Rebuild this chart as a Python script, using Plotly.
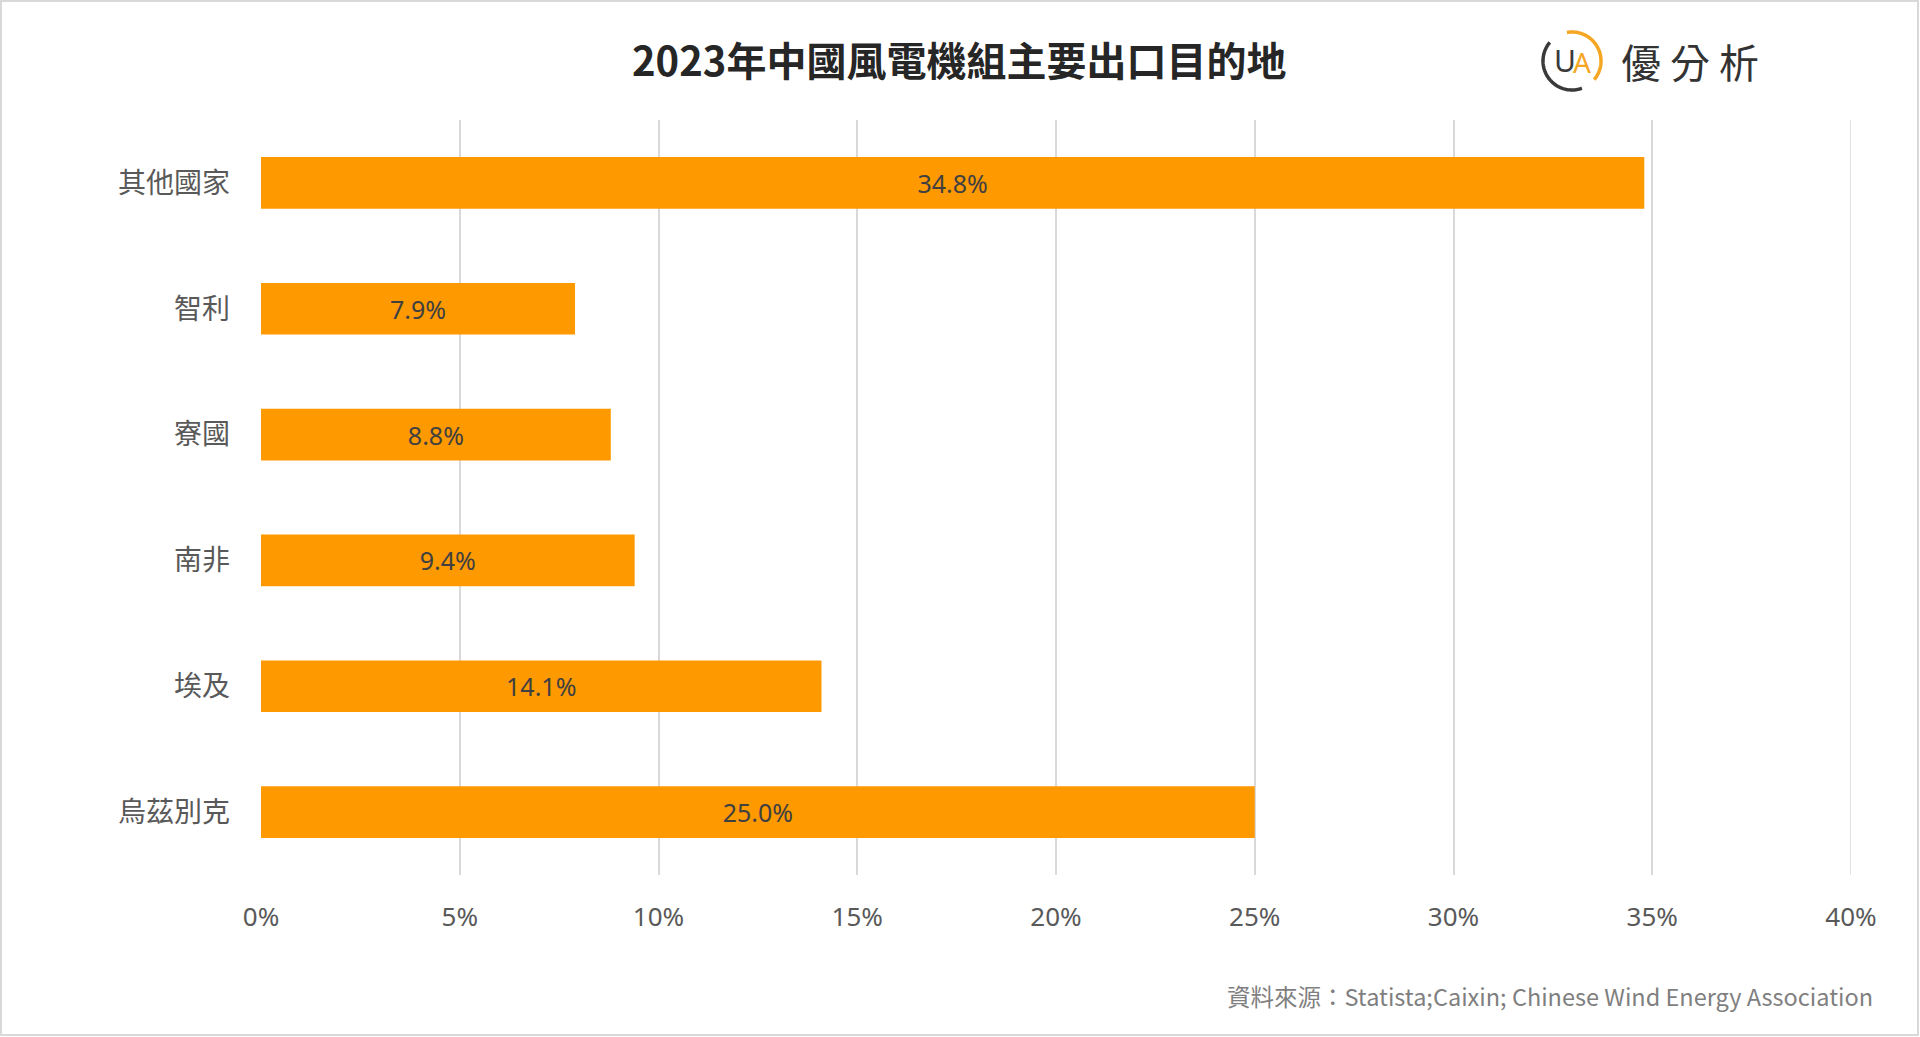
import numpy as np
import plotly.graph_objects as go

categories = ["其他國家", "智利", "寮國", "南非", "埃及", "烏茲別克"]
values = [34.8, 7.9, 8.8, 9.4, 14.1, 25.0]
labels = ["34.8%", "7.9%", "8.8%", "9.4%", "14.1%", "25.0%"]
x_ticks = [0, 5, 10, 15, 20, 25, 30, 35, 40]
x_tick_text = ["0%", "5%", "10%", "15%", "20%", "25%", "30%", "35%", "40%"]

W, H = 1920, 1037
L, R, T, B = 261, 69, 120, 162
PW, PH = W - L - R, H - T - B

def px(x):
    return (x - L) / PW

def py(y):
    return (H - B - y) / PH

FONT = "Noto Sans, Noto Sans CJK TC, sans-serif"
CJK = "Noto Sans CJK TC, Noto Sans, sans-serif"

fig = go.Figure()
fig.add_trace(go.Bar(
    x=values, y=categories, orientation="h",
    marker=dict(color="#FF9900", line=dict(width=0)),
    text=labels, textposition="inside", insidetextanchor="middle",
    textfont=dict(family=FONT, size=25, color="#404040"),
    hoverinfo="skip",
))

fig.update_layout(
    width=W, height=H,
    margin=dict(l=L, r=R, t=T, b=B, autoexpand=False),
    paper_bgcolor="white", plot_bgcolor="white",
    showlegend=False,
    bargap=0.59,
    xaxis=dict(range=[0, 40], tickvals=x_ticks, ticktext=x_tick_text,
               showgrid=True, gridcolor="#D9D9D9", gridwidth=1.5,
               zeroline=False, showline=False, ticks="",
               tickfont=dict(family=FONT, size=26, color="#595959"),
               ticklabelstandoff=24, fixedrange=True),
    yaxis=dict(autorange="reversed", showgrid=False, zeroline=False,
               showline=False, ticks="",
               tickfont=dict(family=CJK, size=28, color="#595959"),
               ticklabelstandoff=30, fixedrange=True),
)

# Gridline at the right edge of the axis (40%)
fig.add_shape(type="line", xref="x", yref="paper", x0=x_ticks[-1], x1=x_ticks[-1],
              y0=0, y1=1, line=dict(color="#D9D9D9", width=1.5), layer="below")

# Title
fig.add_annotation(text="<b>2023年中國風電機組主要出口目的地</b>", xref="paper", yref="paper",
                   x=px(959), y=py(59), xanchor="center", yanchor="middle", showarrow=False,
                   font=dict(family=CJK, size=40, color="#262626"))

# Source
fig.add_annotation(text="資料來源：Statista;Caixin; Chinese Wind Energy Association",
                   xref="paper", yref="paper", x=px(1875), y=py(996),
                   xanchor="right", yanchor="middle", showarrow=False,
                   font=dict(family=CJK, size=23.5, color="#7F7F7F"))

# Logo text
fig.add_annotation(text="優 分 析", xref="paper", yref="paper", x=px(1690), y=py(61),
                   xanchor="center", yanchor="middle", showarrow=False,
                   font=dict(family=CJK, size=40, color="#333333"))

# Logo circle arcs
cx, cy, r = 1572, 61, 29
def arc(a0, a1, n=60):
    a = np.radians(np.linspace(a0, a1, n))
    xs = cx + r * np.cos(a)
    ys = cy - r * np.sin(a)
    return "M " + " L ".join(f"{px(x):.5f},{py(y):.5f}" for x, y in zip(xs, ys))

fig.add_shape(type="path", path=arc(100, -40), xref="paper", yref="paper",
              line=dict(color="#F5A623", width=3.5))
fig.add_shape(type="path", path=arc(140, 290), xref="paper", yref="paper",
              line=dict(color="#3A3A3A", width=3.5))
fig.add_annotation(text="U", xref="paper", yref="paper", x=px(1565), y=py(60),
                   xanchor="center", yanchor="middle", showarrow=False,
                   font=dict(family=FONT, size=30, color="#3A3A3A"))
fig.add_annotation(text="A", xref="paper", yref="paper", x=px(1582), y=py(62),
                   xanchor="center", yanchor="middle", showarrow=False,
                   font=dict(family=FONT, size=28, color="#F5A623"))

# Outer border
fig.add_shape(type="rect", xref="paper", yref="paper",
              x0=px(1), x1=px(W - 2), y0=py(H - 2), y1=py(1),
              line=dict(color="#D9D9D9", width=2), fillcolor="rgba(0,0,0,0)")

fig.write_html("out.html", config={"displayModeBar": False},
               post_script="document.body.style.margin='0';document.body.style.overflow='hidden';")
